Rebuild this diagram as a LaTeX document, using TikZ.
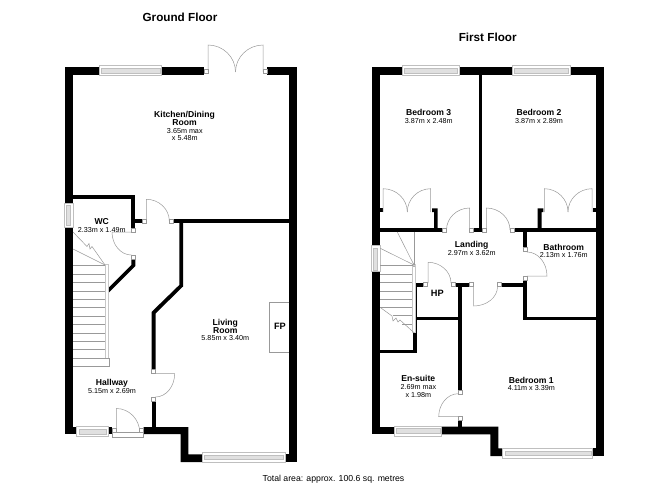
\documentclass[tikz,border=0pt]{standalone}
\usepackage{fontspec}
\setmainfont{Liberation Sans}
\usetikzlibrary{calc}

\tikzset{
	wall/.style={fill=black},
	plan/.style={draw=black!40, line width=0.5pt},
	jambbox/.style={draw=black!40, line width=0.5pt, fill=white},
	railbox/.style={draw=black!22, line width=0.5pt, fill=white},
	glass/.style={draw=black!25, line width=0.5pt, fill=white},
	pane/.style={draw=black!25, line width=0.3pt, fill=black!12},
	floorname/.style={font=\bfseries\fontsize{11.7}{13}\selectfont, inner sep=0pt},
	roomname/.style={font=\bfseries\fontsize{8.6}{8.4}\selectfont, inner sep=0pt, align=center},
	roomsize/.style={font=\fontsize{7.2}{7.8}\selectfont, inner sep=0pt, align=center},
	fixture/.style={font=\bfseries\fontsize{9.2}{9}\selectfont, inner sep=0pt},
}

% hinge, end of leaf, end of arc
\newcommand{\doorswing}[3]{
	\draw[plan] (#1) -- (#2) .. controls ($(#2)+0.55*(#3)-0.55*(#1)$) and ($(#3)+0.55*(#2)-0.55*(#1)$) .. (#3);
}
\newcommand{\jamb}[2]{
	\draw[jambbox] (#1,#2) rectangle ++(4,4);
}
\newcommand{\windowh}[3]{
	\draw[glass] (#1,#3) rectangle (#2,#3+10);
	\draw[pane] (#1+2,#3+2.5) rectangle (#2-2,#3+7);
}
\newcommand{\windowv}[3]{
	\draw[glass] (#3,#1) rectangle (#3+9.5,#2);
	\draw[pane] (#3+2.5,#1+2) rectangle (#3+6.5,#2-2);
}

\begin{document}
\begin{tikzpicture}[x=1pt, y=-1pt]
	\useasboundingbox (0,0) rectangle (668,486);

	% ground floor walls
	\fill[wall] (65,67) rectangle (99.3,75.3);
	\fill[wall] (161.7,67) rectangle (204.3,75.3);
	\fill[wall] (267,67) rectangle (297.3,75.3);
	\fill[wall] (289.3,67) rectangle (297.3,462);
	\fill[wall] (65,67) rectangle (73,203);
	\fill[wall] (65,227) rectangle (73,434);
	\fill[wall] (65,427) rectangle (76.7,434);
	\fill[wall] (108.3,427) rectangle (112.3,434);
	\fill[wall] (143.7,427) -- (188.3,427) -- (188.3,454.3) -- (202,454.3) -- (202,462) -- (180.7,462) -- (180.7,434) -- (143.7,434) -- cycle;
	\fill[wall] (285,454.3) rectangle (297.3,462);
	\fill[wall] (73,195.3) rectangle (135.3,199);
	\fill[wall] (131.3,195.3) rectangle (135.3,228);
	\fill[wall] (135,219.3) rectangle (142.3,223);
	\fill[wall] (173.3,219.3) rectangle (289.3,223);
	\fill[wall] (179.3,223) -- (183,223) -- (183,286.5) -- (155.5,313.5) -- (155.5,369.3) -- (151.5,369.3) -- (151.5,312) -- (179.3,285) -- cycle;
	\fill[wall] (151.5,401) rectangle (155.5,427);
	\fill[wall] (131.3,259) -- (135.3,259) -- (135.3,266) -- (108.3,293) -- (108.3,288) -- (131.3,265) -- cycle;

	% ground floor windows
	\windowh{99.3}{161.7}{65.7}
	\windowh{202}{285}{452.5}
	\windowh{76.7}{108.3}{426.7}
	\windowv{203}{227}{64}

	% ground floor doors
	\jamb{204.3}{69}
	\jamb{263.2}{69}
	\doorswing{208,72}{208,45}{235.5,72}
	\doorswing{263.2,72}{263.2,45}{235.5,72}
	\jamb{142.3}{219.3}
	\jamb{169.3}{219.3}
	\doorswing{146.3,221}{146.3,199.3}{169.3,221}
	\jamb{131.3}{228}
	\jamb{131.3}{255}
	\doorswing{131.3,232}{112,232}{131.3,255}
	\jamb{151.5}{369.3}
	\jamb{151.5}{397}
	\doorswing{155.5,373.5}{174.7,373.5}{155.5,397}
	\draw[jambbox] (112.3,432.5) rectangle (143.7,437.5);
	\jamb{112.3}{428.5}
	\jamb{139.7}{428.5}
	\doorswing{116.3,432.5}{116.3,408.5}{139.7,432.5}

	% ground floor stairs
	\foreach \treadY in {265.7,274,282.7,291,299.3,307.7,316.3,324.7,333,341.3,349.7,358,366}
		\draw[plan] (73,\treadY) -- (105,\treadY);
	\draw[railbox] (105,264) rectangle (108,358);
	\draw[plan] (73,366) -- (109.3,366) -- (109.3,358) -- (105,358);
	\draw[plan] (73,232) -- (87,246.5) -- (89,243.5) -- (90,249) -- (92,246.5) -- (105,265);
	\draw[plan] (73,249) -- (105,265);

	% fireplace
	\draw[plan] (289.3,302.3) -- (269.3,302.3) -- (269.3,352) -- (289.3,352);

	% first floor walls
	\fill[wall] (372.3,67) rectangle (402.3,75.3);
	\fill[wall] (459,67) rectangle (512.3,75.3);
	\fill[wall] (570.3,67) rectangle (604.3,75.3);
	\fill[wall] (596.3,67) rectangle (604.3,456);
	\fill[wall] (372.3,67) rectangle (380.3,245.7);
	\fill[wall] (372.3,271.7) rectangle (380.3,434.3);
	\fill[wall] (478.7,75) rectangle (482.3,232);
	\fill[wall] (380,228.3) rectangle (442.3,232);
	\fill[wall] (473.7,228.3) rectangle (482.3,232);
	\fill[wall] (514,228.3) rectangle (596.3,232);
	\fill[wall] (380,208.3) rectangle (382.7,212);
	\fill[wall] (432,208.3) -- (437.7,208.3) -- (437.7,228.3) -- (434,228.3) -- (434,212) -- (432,212) -- cycle;
	\fill[wall] (537.7,208.3) -- (543.3,208.3) -- (543.3,212) -- (541.7,212) -- (541.7,228.3) -- (537.7,228.3) -- cycle;
	\fill[wall] (592.7,208.3) rectangle (596.3,212);
	\fill[wall] (523,232) rectangle (527,247.7);
	\fill[wall] (523,280) rectangle (527,320);
	\fill[wall] (527,316.7) rectangle (596.3,320.3);
	\fill[wall] (501.3,282.7) rectangle (527,286.7);
	\fill[wall] (455,283) rectangle (469.7,286.7);
	\fill[wall] (458.3,286.7) rectangle (462,390);
	\fill[wall] (458.3,420) rectangle (462,427);
	\fill[wall] (413.3,283) rectangle (423.3,286.7);
	\fill[wall] (413.3,283) rectangle (417.3,353.3);
	\fill[wall] (417,316.7) rectangle (458.5,320.3);
	\fill[wall] (380,349.7) rectangle (417,353.3);
	\fill[wall] (372.3,426.7) rectangle (394.3,434.3);
	\fill[wall] (441.7,426.7) -- (498.3,426.7) -- (498.3,448.3) -- (502.7,448.3) -- (502.7,456) -- (490.3,456) -- (490.3,434.3) -- (441.7,434.3) -- cycle;
	\fill[wall] (592.7,448.3) rectangle (604.3,456);

	% first floor windows
	\windowh{402.3}{459}{65.7}
	\windowh{512.3}{570.3}{65.7}
	\windowh{394.3}{441.7}{426}
	\windowh{502.7}{592.7}{448.3}
	\windowv{245.7}{271.7}{371}

	% first floor doors
	\doorswing{383,212}{383,188.7}{407.3,212}
	\doorswing{430.7,212}{430.7,188.7}{407.3,212}
	\doorswing{544.3,212}{544.3,188.7}{568,212}
	\doorswing{592,212}{592,188.7}{568,212}
	\jamb{442.5}{228.3}
	\jamb{469.7}{228.3}
	\doorswing{469.7,230}{469.7,208}{446.5,230}
	\jamb{482.3}{228.3}
	\jamb{510}{228.3}
	\doorswing{486.3,230}{486.3,208}{510,230}
	\jamb{523}{247.7}
	\jamb{523}{276}
	\doorswing{527,276}{547,276}{527,252}
	\jamb{469.7}{282.7}
	\jamb{497.5}{282.7}
	\doorswing{473.7,286.7}{473.7,306}{497.5,286.7}
	\jamb{423.3}{282.7}
	\jamb{451}{282.7}
	\doorswing{428,283}{428,262.3}{451,283}
	\jamb{458.3}{390}
	\jamb{458.3}{416.5}
	\doorswing{458.3,416.7}{438.7,416.7}{458.3,393.7}

	% first floor stairs
	\foreach \treadY in {265.5,274.3,282.5,291,299.5,307.5}
		\draw[plan] (380.3,\treadY) -- (413,\treadY);
	\draw[plan] (393,315.7) -- (413,315.7);
	\draw[plan] (402,324) -- (413,324);
	\draw[railbox] (412.7,266) rectangle (415,332.7);
	\draw[plan] (414,232) -- (414,265);
	\draw[plan] (397.3,232) -- (414,265);
	\draw[plan] (380.3,248.3) -- (414,265);
	\draw[plan] (414,265) circle (1.5pt);
	\draw[plan] (380.3,307.5) -- (392,316) -- (393,321) -- (396,318) -- (398,322) -- (400,320) -- (414,332.7);

	% labels
	\node[floorname] (groundtitle) at (180,17) {Ground Floor};
	\node[floorname] (firsttitle) at (487.7,37.3) {First Floor};

	\node[roomname] (kitchenname) at (184.5,118.7) {Kitchen/Dining\\Room};
	\node[roomsize] (kitchensize) at (184.8,134.5) {3.65m max\\x 5.48m};
	\node[roomname] (wcname) at (101.7,221.7) {WC};
	\node[roomsize] (wcsize) at (101.7,229.7) {2.33m x 1.49m};
	\node[roomname] (livingname) at (225.3,326.2) {Living\\Room};
	\node[roomsize] (livingsize) at (225.3,338.3) {5.85m x 3.40m};
	\node[fixture] (fplabel) at (280,326.7) {FP};
	\node[roomname] (hallname) at (112,383.3) {Hallway};
	\node[roomsize] (hallsize) at (112,391.3) {5.15m x 2.69m};

	\node[roomname] (bedthreename) at (428.7,112.7) {Bedroom 3};
	\node[roomsize] (bedthreesize) at (428.7,120.7) {3.87m x 2.48m};
	\node[roomname] (bedtwoname) at (539,112.7) {Bedroom 2};
	\node[roomsize] (bedtwosize) at (539,120.7) {3.87m x 2.89m};
	\node[roomname] (landingname) at (471.7,245) {Landing};
	\node[roomsize] (landingsize) at (471.7,253) {2.97m x 3.62m};
	\node[roomname] (bathname) at (563.7,247) {Bathroom};
	\node[roomsize] (bathsize) at (563.7,254.7) {2.13m x 1.76m};
	\node[fixture] (hplabel) at (437.3,293.7) {HP};
	\node[roomname] (ensuitename) at (418.3,378.7) {En-suite};
	\node[roomsize] (ensuitesize) at (418.3,390.7) {2.69m max\\x 1.98m};
	\node[roomname] (bedonename) at (531.3,380.3) {Bedroom 1};
	\node[roomsize] (bedonesize) at (531.3,388.3) {4.11m x 3.39m};

	\node[roomsize, font=\fontsize{8.7}{9}\selectfont] (totalarea) at (333.5,479) {Total area: approx. 100.6 sq. metres};
\end{tikzpicture}
\end{document}
